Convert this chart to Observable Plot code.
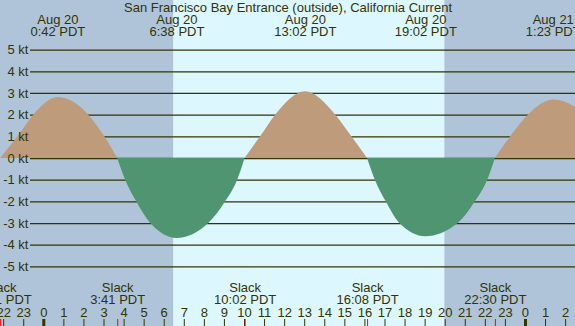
<!DOCTYPE html>
<html>
<head>
<meta charset="utf-8">
<script src="https://cdn.jsdelivr.net/npm/d3@7"></script>
<script src="https://cdn.jsdelivr.net/npm/@observablehq/plot@0.6"></script>
<style>
  html, body { margin: 0; padding: 0; background: #afc4d9; }
</style>
</head>
<body>
<div id="chart"></div>
<script>
// ---- Data (hours since Aug 20 00:00 PDT) ----
const title = "San Francisco Bay Entrance (outside), California Current";

// Current speed readings (kt), one array per flood/ebb lobe
const lobeKinds = ["flood", "ebb", "flood", "ebb", "flood"];
const lobeTimes = [
  [-2.15, -1.29, -0.5, 0.70, 2.24, 3.04, 3.68],
  [3.68, 4.08, 4.63, 5.33, 6.65, 8.22, 9.06, 9.66, 10.03],
  [10.03, 10.8, 11.55, 13.03, 14.55, 15.35, 16.13],
  [16.13, 16.52, 17.06, 17.74, 19.03, 20.65, 21.5, 22.12, 22.5],
  [22.5, 23.26, 24.14, 25.40, 26.5, 27.0]
];
const lobeSpeeds = [
  [0, 1, 2, 2.81, 2, 1, 0],
  [0, -1, -2, -3, -3.69, -3, -2, -1, 0],
  [0, 1, 2, 3.08, 2, 1, 0],
  [0, -1, -2, -3, -3.61, -3, -2, -1, 0],
  [0, 1, 2, 2.70, 2.36, 2.0]
];

// Max current events (top labels)
const maxTimes = [0.70, 6.633, 13.033, 19.033, 25.383];
const maxDates = ["Aug 20", "Aug 20", "Aug 20", "Aug 20", "Aug 21"];
const maxLabels = ["0:42 PDT", "6:38 PDT", "13:02 PDT", "19:02 PDT", "1:23 PDT"];

// Slack events (bottom labels)
const slackTimes = [-2.15, 3.683, 10.033, 16.133, 22.5];
const slackLabels = ["21:51 PDT", "3:41 PDT", "10:02 PDT", "16:08 PDT", "22:30 PDT"];

// Daylight
const sunrise = 6.47, sunset = 19.985;

// Axis ticks
const ktTicks = [5, 4, 3, 2, 1, 0, -1, -2, -3, -4, -5];
const hourTicks = d3.range(-2, 27);

// ---- Build tables ----
const curve = [];
lobeTimes.forEach((ts, i) => ts.forEach((t, j) => curve.push({lobe: i, kind: lobeKinds[i], t, v: lobeSpeeds[i][j]})));
const maxes = maxTimes.map((t, i) => ({t, date: maxDates[i], label: maxLabels[i]}));
const slacks = slackTimes.map((t, i) => ({t, label: slackLabels[i]}));
const hours = hourTicks.map(h => ({h, label: String(((h % 24) + 24) % 24)}));

const W = 575, H = 326;
const x0 = 43.3, pxh = 20.07;
const y5 = 49.6, y0 = 158.0;
const pxk = (y0 - y5) / 5;

const ink = "#333300";
const night = "#afc4d9", day = "#ddf7ff";
const flood = "#be9b7a", ebb = "#4f9571";

const chart = Plot.plot({
  width: W, height: H,
  margin: 0,
  x: {domain: [-x0 / pxh, (W - x0) / pxh], range: [0, W], axis: null},
  y: {domain: [-5, 5], range: [y0 + 5 * pxk, y5], axis: null},
  style: {fontFamily: "Liberation Sans, Arial, sans-serif", fontSize: "13px", background: night, color: ink, overflow: "hidden"},
  marks: [
    Plot.rectX([{a: sunrise, b: sunset}], {x1: "a", x2: "b", fill: day}),
    Plot.ruleY(ktTicks, {y: d => d, stroke: ink, strokeWidth: 1.3, insetLeft: 30}),
    Plot.areaY(curve, {x: "t", y: "v", z: "lobe", fill: d => d.kind === "flood" ? flood : ebb, curve: "monotone-x", clip: true}),
    Plot.text(ktTicks, {y: d => d, text: d => `${d} kt`, frameAnchor: "left", dx: 28, textAnchor: "end", fill: ink}),
    Plot.text([title], {text: d => d, frameAnchor: "top", dy: 7.5, lineAnchor: "middle", fill: ink}),
    Plot.text(maxes, {x: "t", text: "date", frameAnchor: "top", dy: 19.5, lineAnchor: "middle", fill: ink}),
    Plot.text(maxes, {x: "t", text: "label", frameAnchor: "top", dy: 31.5, lineAnchor: "middle", fill: ink}),
    Plot.text(slacks, {x: "t", text: () => "Slack", frameAnchor: "top", dy: 287.3, lineAnchor: "middle", fill: ink}),
    Plot.text(slacks, {x: "t", text: "label", frameAnchor: "top", dy: 299.2, lineAnchor: "middle", fill: ink}),
    Plot.text(hours, {x: "h", text: "label", frameAnchor: "top", dy: 312, lineAnchor: "middle", fill: ink}),
    Plot.ruleX(hours, {x: "h", stroke: ink, strokeWidth: d => d.h % 24 === 0 ? 3 : 1, insetTop: 319}),
    Plot.ruleX(slacks, {x: "t", stroke: "#ff0000", strokeWidth: 1, insetTop: 319})
  ]
});
document.getElementById("chart").appendChild(chart);
</script>
</body>
</html>
